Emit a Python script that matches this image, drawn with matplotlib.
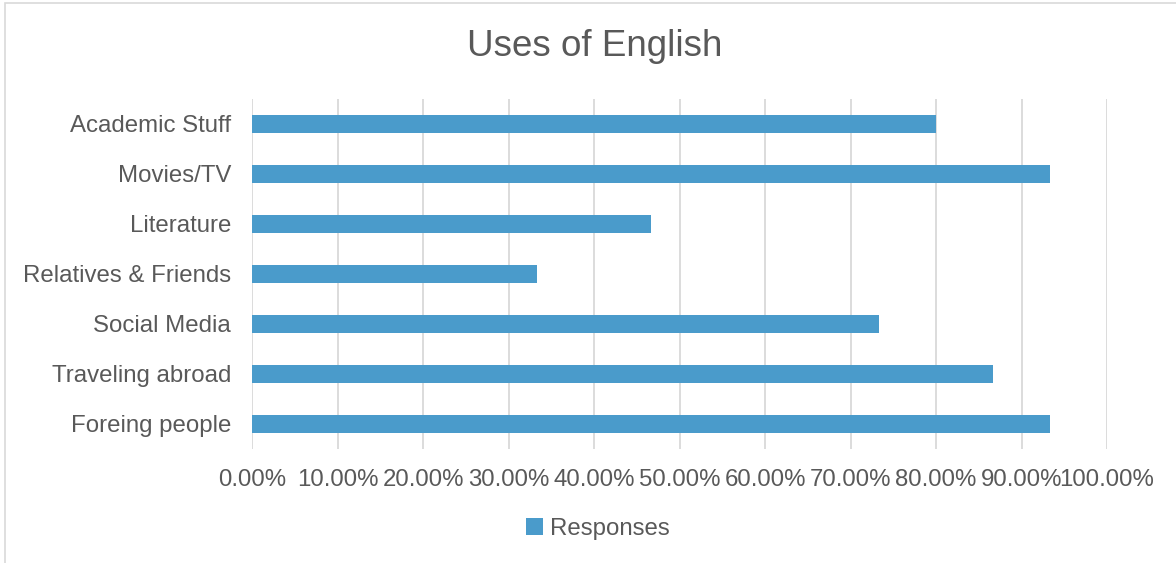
import matplotlib
matplotlib.use("Agg")
import matplotlib.pyplot as plt
from matplotlib.patches import Rectangle
from matplotlib.ticker import FuncFormatter

categories = ["Foreing people", "Traveling abroad", "Social Media", "Relatives & Friends",
              "Literature", "Movies/TV", "Academic Stuff"]
responses = [0.9333, 0.8667, 0.7333, 0.3333, 0.4667, 0.9333, 0.80]
xticks = [0.0, 0.1, 0.2, 0.3, 0.4, 0.5, 0.6, 0.7, 0.8, 0.9, 1.0]

plt.rcParams['font.family'] = ['Liberation Sans', 'DejaVu Sans']
W, H = 1176, 563
fig = plt.figure(figsize=(W/100, H/100), dpi=100)
fig.patch.set_facecolor("white")

# outer chart border
fig.patches.append(Rectangle((5/W, -0.05), 1.2, (H-3)/H + 0.05, transform=fig.transFigure,
                             fill=False, edgecolor="#D9D9D9", linewidth=1.2))

ax = fig.add_axes([252/W, 1-448.5/H, (1107-252)/W, (448.5-99)/H])
bars = ax.barh(range(len(categories)), responses, height=0.36, color="#4A9BCB", label="Responses", zorder=3)
ax.set_ylim(-0.5, len(categories)-0.5)
ax.set_xlim(0, 1.0)
ax.set_xticks(xticks)
ax.xaxis.set_major_formatter(FuncFormatter(lambda v, p: f"{v*100:.2f}%"))
ax.set_yticks(range(len(categories)))
ax.set_yticklabels(categories)
ax.grid(axis="x", color="#D9D9D9", linewidth=1.3, zorder=0)
for s in ax.spines.values():
    s.set_visible(False)
ax.tick_params(axis="both", length=0, labelsize=17.3, colors="#595959")
ax.tick_params(axis="x", pad=15)
ax.tick_params(axis="y", pad=15)

fig.text(595/W, 1-47/H, "Uses of English", ha="center", va="center", fontsize=26.5, color="#595959")
leg = fig.legend(handles=[bars], labels=["Responses"], loc="center", bbox_to_anchor=(598/W, 1-529/H),
                 frameon=False, fontsize=17.3, handlelength=0.7, handleheight=0.7, handletextpad=0.3)
for t in leg.get_texts():
    t.set_color("#595959")

fig.savefig("out.png", dpi=100)
